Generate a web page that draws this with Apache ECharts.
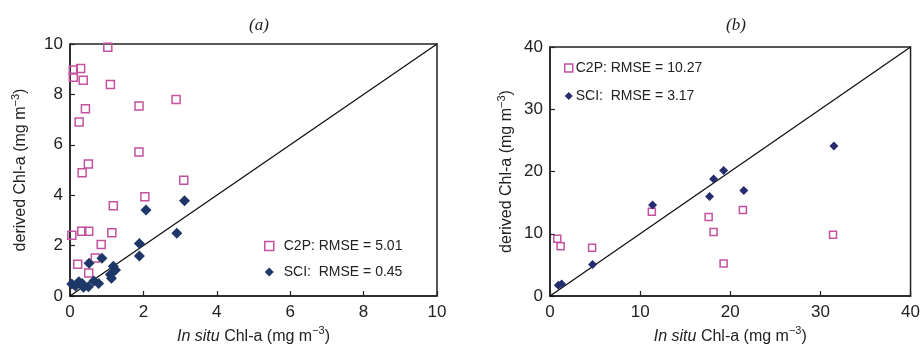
<!DOCTYPE html>
<html><head><meta charset="utf-8">
<script src="https://cdn.jsdelivr.net/npm/echarts@6/dist/echarts.min.js"></script>
<style>html,body{margin:0;padding:0;background:#fff}#c{width:923px;height:350px}</style>
</head><body><div id="c"></div><script>
// Panel (a)
const aC2P = [[1.03,9.87],[0.09,8.97],[0.29,9.03],[0.09,8.68],[0.36,8.56],[1.1,8.39],[1.88,7.54],[2.89,7.8],[0.42,7.43],[0.25,6.9],[1.88,5.71],[0.5,5.24],[0.33,4.89],[3.1,4.59],[2.04,3.94],[1.18,3.58],[0.05,2.41],[0.32,2.57],[0.51,2.57],[1.14,2.51],[0.85,2.04],[0.21,1.26],[0.69,1.51],[0.51,0.91]];
const aSCI = [[3.12,3.78],[2.07,3.41],[2.91,2.49],[1.89,2.08],[1.89,1.59],[0.87,1.5],[0.52,1.3],[1.18,1.18],[1.24,1.03],[1.1,0.85],[1.13,0.7],[0.78,0.5],[0.65,0.6],[0.5,0.37],[0.33,0.5],[0.37,0.35],[0.24,0.57],[0.05,0.48],[0.15,0.4]];
const aLine = [[0,0],[10,10]];
const aNames = ['C2P: RMSE = 5.01', 'SCI:  RMSE = 0.45'];
const aTicks = [0,2,4,6,8,10];
// Panel (b)
const bC2P = [[0.81,9.18],[1.18,8.0],[4.67,7.74],[11.3,13.55],[17.6,12.7],[18.15,10.3],[19.26,5.23],[21.4,13.82],[31.4,9.82]];
const bSCI = [[0.92,1.71],[1.29,1.92],[4.72,5.07],[11.38,14.62],[17.7,16.0],[18.15,18.78],[19.26,20.16],[21.5,16.96],[31.5,24.1]];
const bLine = [[0,0],[40,40]];
const bNames = ['C2P: RMSE = 10.27', 'SCI:  RMSE = 3.17'];
const bTicks = [0,10,20,30,40];

const FONT = '"Liberation Sans", Arial, sans-serif';
const PINK = '#c4529e';
const NAVY_A = '#1d3768';
const NAVY_B = '#252c70';

const rich = {
  n: {fontFamily: FONT, fontSize: 16, color: '#222'},
  it: {fontFamily: FONT, fontSize: 16, fontStyle: 'italic', color: '#222'},
  sup: {fontFamily: FONT, fontSize: 11, color: '#222', padding: [0,0,10,0]}
};
const xName = '{it|In situ}{n| Chl-a (mg m}{sup|\u22123}{n|)}';
const yName = '{n|derived Chl-a (mg m}{sup|\u22123}{n|)}';

function xAx(idx, ticks, gap) {
  return {
    gridIndex: idx, type: 'value', min: ticks[0], max: ticks[ticks.length-1], interval: ticks[1]-ticks[0],
    axisLine: {lineStyle: {color: '#222', width: 1.5}},
    axisTick: {inside: true, length: 5, lineStyle: {color: '#222', width: 1.2}},
    axisLabel: {fontFamily: FONT, fontSize: 17, color: '#222', margin: 8},
    splitLine: {show: false},
    name: xName, nameLocation: 'middle', nameGap: gap, nameTextStyle: {rich: rich}
  };
}
function yAx(idx, ticks, gap) {
  return {
    gridIndex: idx, type: 'value', min: ticks[0], max: ticks[ticks.length-1], interval: ticks[1]-ticks[0],
    axisLine: {lineStyle: {color: '#222', width: 1.5}},
    axisTick: {inside: true, length: 5, lineStyle: {color: '#222', width: 1.2}},
    axisLabel: {fontFamily: FONT, fontSize: 17, color: '#222', margin: 7},
    splitLine: {show: false},
    name: yName, nameLocation: 'middle', nameGap: gap, nameRotate: 90, nameTextStyle: {rich: rich}
  };
}

const chart = echarts.init(document.getElementById('c'), null, {renderer: 'canvas'});
chart.setOption({
  animation: false,
  backgroundColor: '#fff',
  title: [
    {text: '(a)', left: 254, top: 12, textAlign: 'center', textStyle: {fontFamily: '"Liberation Serif", "Times New Roman", serif', fontStyle: 'italic', fontWeight: 'normal', fontSize: 17, color: '#222'}},
    {text: '(b)', left: 731, top: 12, textAlign: 'center', textStyle: {fontFamily: '"Liberation Serif", "Times New Roman", serif', fontStyle: 'italic', fontWeight: 'normal', fontSize: 17, color: '#222'}}
  ],
  grid: [
    {left: 70, right: 486, top: 44, bottom: 54, show: true, borderColor: '#222', borderWidth: 1.5, backgroundColor: 'transparent'},
    {left: 550, right: 11, top: 47, bottom: 54, show: true, borderColor: '#222', borderWidth: 1.5, backgroundColor: 'transparent'}
  ],
  xAxis: [xAx(0, aTicks, 28), xAx(1, bTicks, 28)],
  yAxis: [yAx(0, aTicks, 39), yAx(1, bTicks, 33)],
  legend: [
    {data: aNames, orient: 'vertical', left: 264, top: 239, padding: 0, itemWidth: 9, itemHeight: 9, itemGap: 12,
     itemStyle: {borderWidth: 1.5},
     textStyle: {fontFamily: FONT, fontSize: 14, color: '#222', padding: [0,0,0,5]}},
    {data: bNames, orient: 'vertical', left: 564, top: 61, padding: 0, itemWidth: 8, itemHeight: 8, itemGap: 14,
     itemStyle: {borderWidth: 1.5},
     textStyle: {fontFamily: FONT, fontSize: 14, color: '#222', padding: [0,0,0,-2]}}
  ],
  series: [
    {type: 'line', xAxisIndex: 0, yAxisIndex: 0, data: aLine, symbol: 'none', silent: true, lineStyle: {color: '#111', width: 1.3}, z: 1},
    {name: aNames[0], type: 'scatter', xAxisIndex: 0, yAxisIndex: 0, data: aC2P, symbol: 'rect', symbolSize: 8,
     itemStyle: {color: 'rgba(255,255,255,0)', borderColor: PINK, borderWidth: 1.5, opacity: 1}, z: 3},
    {name: aNames[1], type: 'scatter', xAxisIndex: 0, yAxisIndex: 0, data: aSCI, symbol: 'diamond', symbolSize: 11,
     itemStyle: {color: NAVY_A, opacity: 1}, z: 4},
    {type: 'line', xAxisIndex: 1, yAxisIndex: 1, data: bLine, symbol: 'none', silent: true, lineStyle: {color: '#111', width: 1.3}, z: 1},
    {name: bNames[0], type: 'scatter', xAxisIndex: 1, yAxisIndex: 1, data: bC2P, symbol: 'rect', symbolSize: 7,
     itemStyle: {color: 'rgba(255,255,255,0)', borderColor: PINK, borderWidth: 1.5, opacity: 1}, z: 3},
    {name: bNames[1], type: 'scatter', xAxisIndex: 1, yAxisIndex: 1, data: bSCI, symbol: 'diamond', symbolSize: 9,
     itemStyle: {color: NAVY_B, opacity: 1}, z: 4}
  ]
});
</script></body></html>
